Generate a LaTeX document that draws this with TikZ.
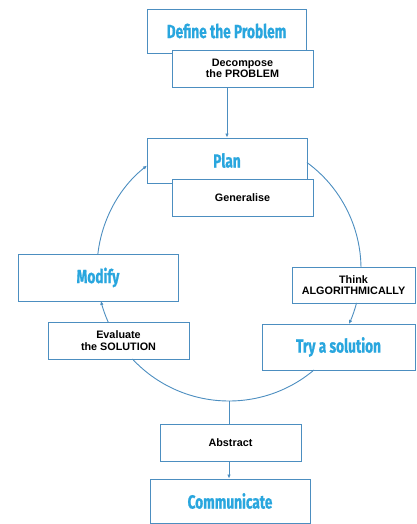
\documentclass[tikz,border=0pt]{standalone}
\usepackage{fontspec}
\usetikzlibrary{arrows.meta,calc}
\newfontfamily\titlefont{Fira Sans}[FakeStretch=0.72,BoldFeatures={FakeBold=0.8}]
\newfontfamily\labelfont{Liberation Sans}
\definecolor{boxblue}{RGB}{76,142,192}
\definecolor{titleblue}{RGB}{41,166,222}

\begin{document}
\begin{tikzpicture}[x=1pt,y=-1pt,
    stage/.style={draw=boxblue,line width=0.9pt,fill=white,inner sep=0pt,minimum width=160,minimum height=45,
      text=titleblue,font=\titlefont\bfseries\fontsize{19}{19}\selectfont},
    task/.style={draw=boxblue,line width=0.9pt,fill=white,inner sep=0pt,minimum width=141,minimum height=37,
      align=center,font=\labelfont\bfseries\fontsize{10.8}{11.5}\selectfont},
    flow/.style={boxblue,line width=0.9pt},
    >={Latex[length=4pt,width=3.5pt]}]
  \useasboundingbox (0,0) rectangle (417,524);
  \node[stage,minimum width=159,minimum height=44] (define) at (226.5,31) {Define the Problem};
  \node[task] (decompose) at (242.5,68.5) {Decompose\\the PROBLEM};
  \node[stage] (plan) at (227,160.5) {Plan};
  \node[task] (generalise) at (242.5,197.5) {Generalise};
  \node[stage,minimum height=47] (modify) at (98,277.5) {Modify};
  \node[task] (evaluate) at (118.5,340.5) {Evaluate\\the SOLUTION};
  \node[task,minimum width=123,minimum height=36] (think) at (353.5,285) {Think\\ALGORITHMICALLY};
  \node[stage,minimum width=153,minimum height=46] (try) at (338.5,347) {Try a solution};
  \node[task] (abstract) at (230.5,442.5) {Abstract};
  \node[stage,minimum height=44] (communicate) at (230,501) {Communicate};

  % the cycle
  \coordinate (o) at (229,269);
  \coordinate (bot) at ($(o)+(90:132)$);
  \draw[flow,->] ($(o)+(186.5:132)$) arc[start angle=186.5,end angle=231.6,radius=132];
  \draw[flow] ($(o)+(306.2:132)$) arc[start angle=306.2,end angle=359.1,radius=132];
  \draw[flow,->] ($(o)+(14.9:132)$) arc[start angle=14.9,end angle=24.6,radius=132];
  \draw[flow] ($(o)+(49.9:132)$) arc[start angle=49.9,end angle=137,radius=132];
  \draw[flow,->] ($(o)+(156.3:132)$) arc[start angle=156.3,end angle=166,radius=132];

  \draw[flow,->] (decompose.south -| plan.north) -- (plan.north);
  \draw[flow] (bot) -- (bot |- abstract.north);
  \draw[flow,->] (bot |- abstract.south) -- (bot |- communicate.north);
\end{tikzpicture}
\end{document}
